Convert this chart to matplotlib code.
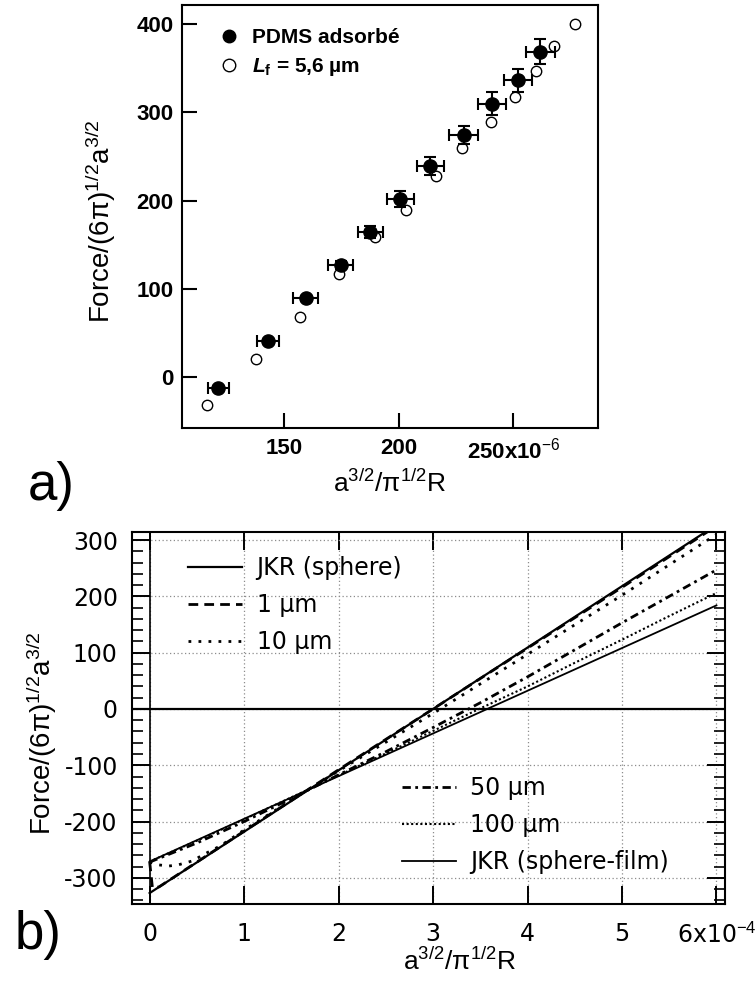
import numpy as np
import matplotlib.pyplot as plt
from matplotlib.ticker import MultipleLocator

plt.rcParams['font.family'] = ['Liberation Sans', 'DejaVu Sans']
plt.rcParams['axes.unicode_minus'] = False
plt.rcParams['mathtext.fontset'] = 'custom'
plt.rcParams['mathtext.rm'] = 'Liberation Sans'
plt.rcParams['mathtext.it'] = 'Liberation Sans:italic'
plt.rcParams['mathtext.bf'] = 'Liberation Sans:bold'
plt.rcParams['mathtext.bfit'] = 'Liberation Sans:italic:bold'

# ---- panel a) : data (x in units of 1e-6) ----
x_fill = [121.2, 142.9, 159.3, 174.6, 187.6, 200.7, 213.8, 228.3, 240.7, 252.0, 261.9]
y_fill = [-11.7, 40.8, 89.4, 127.2, 164.2, 201.5, 239.2, 274.7, 309.8, 336.2, 368.7]
xerr_fill = [4.7, 4.9, 5.4, 5.4, 5.5, 6.0, 6.0, 6.3, 6.3, 6.2, 6.3]
yerr_fill = [2, 2, 3, 4, 7, 9, 10, 10, 13, 13, 14]
x_open = [116.1, 137.6, 156.7, 174.1, 189.7, 203.0, 216.4, 227.8, 240.1, 250.9, 259.9, 267.7, 277.0]
y_open = [-31.3, 20.4, 68.7, 117.0, 158.5, 189.4, 228.0, 259.6, 288.7, 317.0, 346.8, 375.1, 400.0]
a_xticks = [150, 200, 250]
a_xticklabels = ['150', '200', '250x10$^{-6}$']
a_yticks = [0, 100, 200, 300, 400]

# ---- panel b) : model curves (x in units of 1e-4) ----
x_sph = [0, 6]
y_sph = [-327, 327]
x_film = [0, 6]
y_film = [-271, 184]
x_1um = [0, 0.03, 0.1, 1, 2, 3, 4, 5, 6]
y_1um = [-271, -318, -316, -217, -108, 0, 108, 216, 325]
x_10um = [0, 0.1, 0.2, 0.3, 0.45, 0.6, 0.75, 1.0, 1.5, 2, 3, 4, 5, 6]
y_10um = [-272, -277, -279, -277, -270, -256, -243, -215, -162, -110, -8, 97, 202, 310]
x_50um = [0, 0.5, 1, 1.5, 2, 2.5, 3, 3.5, 4, 4.5, 5, 5.5, 6]
y_50um = [-272, -238, -200, -159, -117, -76, -33, 11, 57, 105, 153, 200, 247]
x_100um = [0, 0.5, 1, 1.5, 2, 2.5, 3, 3.5, 4, 4.5, 5, 5.5, 6]
y_100um = [-271, -234, -196, -157, -118, -79, -39, 1, 40, 82, 123, 165, 206]
b_xticks = [0, 1, 2, 3, 4, 5, 6]
b_xticklabels = ['0', '1', '2', '3', '4', '5', '6x10$^{-4}$']
b_yticks = [-300, -200, -100, 0, 100, 200, 300]

ylab = 'Force/(6π)$^{1/2}$a$^{3/2}$'
xlab = 'a$^{3/2}$/π$^{1/2}$R'

fig = plt.figure(figsize=(7.55, 9.89), dpi=100)

# ---------------- panel a ----------------
ax1 = fig.add_axes([0.2407, 0.5672, 0.551, 0.4277])
ax1.errorbar(x_fill, y_fill, xerr=xerr_fill, yerr=yerr_fill, fmt='o', color='k',
             ms=9.5, elinewidth=1.5, capsize=4, capthick=1.5)
ax1.plot(x_open, y_open, 'o', mfc='none', mec='k', ms=7.5, mew=1.0)
ax1.set_xlim(105.2, 286.9)
ax1.set_ylim(-57.4, 421.5)
ax1.set_xticks(a_xticks)
ax1.set_xticklabels(a_xticklabels)
ax1.set_yticks(a_yticks)
ax1.tick_params(direction='in', length=11, width=1.5, pad=6, labelsize=16)
ax1.tick_params(axis='x', pad=7)
for lab in ax1.get_xticklabels() + ax1.get_yticklabels():
    lab.set_fontweight('bold')
for sp in ax1.spines.values():
    sp.set_linewidth(1.5)
ax1.set_ylabel(ylab, fontsize=20)
ax1.yaxis.set_label_coords(-0.153, 0.49)
ax1.set_xlabel(xlab, fontsize=19, va='top')
ax1.xaxis.set_label_coords(0.5, -0.098)

h1, = ax1.plot([], [], 'o', color='k', ms=9)
h2, = ax1.plot([], [], 'o', mfc='none', mec='k', ms=9, mew=1.0)
ax1.legend([h1, h2], ['PDMS adsorbé', '$\\boldsymbol{L}_{\\mathbf{f}}$ = 5,6 µm'],
           loc='upper left', bbox_to_anchor=(0.088, 0.945), frameon=False,
           prop={'size': 15, 'weight': 'bold'}, handlelength=1.0,
           handletextpad=0.6, labelspacing=0.42, borderaxespad=0, borderpad=0)

fig.text(0.037, 0.494, 'a)', fontsize=38, va='baseline')

# ---------------- panel b ----------------
ax2 = fig.add_axes([0.1744, 0.0856, 0.7858, 0.3767])
ax2.set_axisbelow(True)
ax2.grid(True, which='major', color='#8c8c8c', ls=(0, (1, 2)), lw=0.9)
ax2.axhline(0, color='k', lw=1.6)
ax2.axvline(0, color='k', lw=1.2)

l1, = ax2.plot(x_sph, y_sph, color='k', lw=1.6, label='JKR (sphere)')
l2, = ax2.plot(x_1um, y_1um, color='k', lw=2.0, ls=(0, (3.5, 2.2)), label='1 μm')
l3, = ax2.plot(x_10um, y_10um, color='k', lw=2.0, ls=(0, (1, 2.6)), label='10 μm')
l4, = ax2.plot(x_50um, y_50um, color='k', lw=2.0, ls=(0, (3, 1.6, 1, 1.6)), label='50 μm')
l5, = ax2.plot(x_100um, y_100um, color='k', lw=1.5, ls=(0, (1, 1.2)), label='100 μm')
l6, = ax2.plot(x_film, y_film, color='k', lw=1.3, label='JKR (sphere-film)')

ax2.set_xlim(-0.19, 6.09)
ax2.set_ylim(-347, 314.7)
ax2.set_xticks(b_xticks)
ax2.set_xticklabels(b_xticklabels)
ax2.set_yticks(b_yticks)
ax2.yaxis.set_minor_locator(MultipleLocator(20))
ax2.tick_params(which='major', direction='in', length=13, width=1.4,
                top=True, right=True, labelsize=17, pad=10)
ax2.tick_params(which='minor', direction='in', length=8, width=1.2,
                left=True, right=True)
ax2.tick_params(axis='x', pad=13)
for lab in ax2.get_xticklabels() + ax2.get_yticklabels():
    lab.set_family('DejaVu Sans')
for sp in ax2.spines.values():
    sp.set_linewidth(1.5)
ax2.set_ylabel(ylab, fontsize=20)
ax2.yaxis.set_label_coords(-0.122, 0.46)
ax2.set_xlabel(xlab, fontsize=19, va='top')
ax2.xaxis.set_label_coords(0.552, -0.118)

leg1 = ax2.legend(handles=[l1, l2, l3], loc='upper left', bbox_to_anchor=(0.095, 0.935),
                  frameon=False, prop={'family': 'DejaVu Sans', 'size': 17},
                  handlelength=2.3, handletextpad=0.6, labelspacing=0.55,
                  borderaxespad=0, borderpad=0)
ax2.add_artist(leg1)
ax2.legend(handles=[l4, l5, l6], loc='upper left', bbox_to_anchor=(0.455, 0.345),
           frameon=False, prop={'family': 'DejaVu Sans', 'size': 17},
           handlelength=2.3, handletextpad=0.6, labelspacing=0.55,
           borderaxespad=0, borderpad=0)

fig.text(0.02, 0.04, 'b)', fontsize=38, va='baseline')

fig.savefig('out.png', dpi=100)
